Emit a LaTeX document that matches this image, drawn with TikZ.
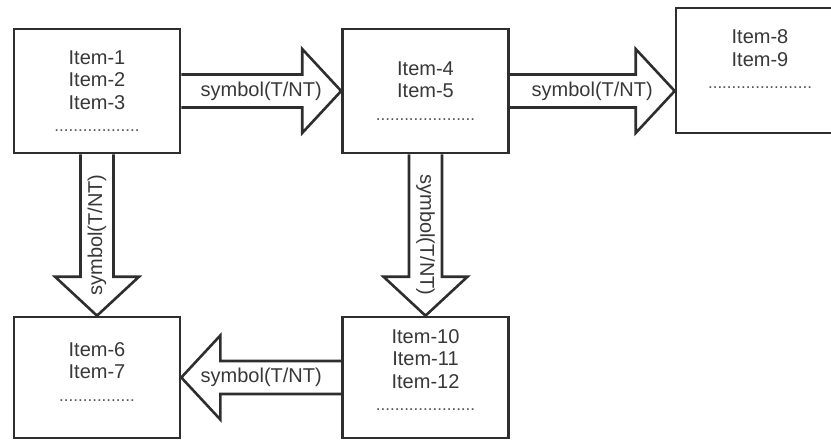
\documentclass[tikz,border=0pt]{standalone}
\usepackage{fontspec}
\setmainfont{Liberation Sans}
\usepackage{xcolor}
\usetikzlibrary{calc}
\definecolor{flowline}{HTML}{2E2E2E}
\definecolor{flowtext}{HTML}{383838}
\definecolor{flowdots}{HTML}{555555}
\newcommand{\itemdots}{\color{flowdots}\fontsize{17}{22}\selectfont}

\tikzset{
  itembox/.style={draw=flowline,line width=2.6pt,fill=white,inner sep=0pt,
    minimum width=166pt,align=center,text=flowtext,
    font=\fontsize{20}{22.5}\selectfont},
  symlabel/.style={text=flowtext,inner sep=0pt,font=\fontsize{20}{22.5}\selectfont},
  blockarrow/.style={draw=flowline,line width=2.6pt,to path={
    let \p1=($(\tikztotarget)!39pt!(\tikztostart)$) in
    ($(\tikztostart)!16.5pt!90:(\tikztotarget)$) -- ($(\p1)!16.5pt!90:(\tikztotarget)$)
    -- ($(\p1)!42pt!90:(\tikztotarget)$) -- (\tikztotarget)
    -- ($(\p1)!42pt!-90:(\tikztotarget)$) -- ($(\p1)!16.5pt!-90:(\tikztotarget)$)
    -- ($(\tikztostart)!16.5pt!-90:(\tikztotarget)$)}}
}

\begin{document}
\begin{tikzpicture}[x=1pt,y=-1pt]
\useasboundingbox (0,0) rectangle (831,441);
\node[itembox,minimum height=124pt] (b1) at (97,91)
 {Item-1\\Item-2\\Item-3\\{\itemdots ..................}};
\node[itembox,minimum height=124pt] (b2) at (425.5,91)
 {Item-4\\Item-5\\{\itemdots .....................}};
\node[itembox,minimum width=168pt,minimum height=125pt] (b3) at (760,70.5)
 {Item-8\\Item-9\\{\itemdots ......................}\\\mbox{}};
\node[itembox,minimum height=121pt] (b4) at (97,377.5)
 {Item-6\\Item-7\\{\itemdots ................}\\[-11pt]\mbox{}};
\node[itembox,minimum height=121pt] (b5) at (425.5,377.5)
 {Item-10\\Item-11\\Item-12\\{\itemdots .....................}\\[-8pt]\mbox{}};
% the right arrow ends on the left side of b3, level with b2
\coordinate (t23) at (b2.east -| b3.west);
\draw[blockarrow] (b1.east) to (b2.west);
\draw[blockarrow] (b2.east) to (t23);
\draw[blockarrow] (b1.south) to (b4.north);
\draw[blockarrow] (b2.south) to (b5.north);
\draw[blockarrow] (b5.west) to (b4.east);
\node[symlabel] (l12) at ($(b1.east)!0.5!(b2.west)$) {symbol(T/NT)};
\node[symlabel] (l23) at ($(b2.east)!0.5!(t23)$) {symbol(T/NT)};
\node[symlabel,rotate=90] (l14) at ($(b1.south)!0.5!(b4.north)$) {symbol(T/NT)};
\node[symlabel,rotate=-90] (l25) at ($(b2.south)!0.5!(b5.north)$) {symbol(T/NT)};
\node[symlabel] (l54) at ($(b5.west)!0.5!(b4.east)$) {symbol(T/NT)};
\end{tikzpicture}
\end{document}
